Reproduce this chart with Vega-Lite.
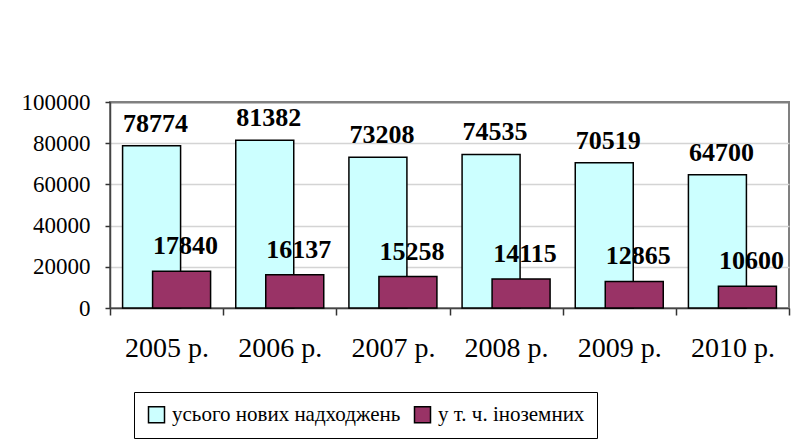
{
  "$schema": "https://vega.github.io/schema/vega-lite/v6.json",
  "autosize": "none",
  "width": 679,
  "height": 206,
  "padding": {"left": 110, "top": 102, "right": 12, "bottom": 137},
  "background": "white",
  "config": {
    "view": {"stroke": "#808080", "strokeWidth": 2},
    "font": "'Liberation Serif', 'Times New Roman', serif"
  },
  "data": {
    "values": [
      {"year": "2005 р.", "series": "усього нових надходжень", "value": 78774},
      {"year": "2006 р.", "series": "усього нових надходжень", "value": 81382},
      {"year": "2007 р.", "series": "усього нових надходжень", "value": 73208},
      {"year": "2008 р.", "series": "усього нових надходжень", "value": 74535},
      {"year": "2009 р.", "series": "усього нових надходжень", "value": 70519},
      {"year": "2010 р.", "series": "усього нових надходжень", "value": 64700},
      {"year": "2005 р.", "series": "у т. ч. іноземних", "value": 17840},
      {"year": "2006 р.", "series": "у т. ч. іноземних", "value": 16137},
      {"year": "2007 р.", "series": "у т. ч. іноземних", "value": 15258},
      {"year": "2008 р.", "series": "у т. ч. іноземних", "value": 14115},
      {"year": "2009 р.", "series": "у т. ч. іноземних", "value": 12865},
      {"year": "2010 р.", "series": "у т. ч. іноземних", "value": 10600}
    ]
  },
  "encoding": {
    "x": {
      "field": "year",
      "type": "nominal",
      "sort": null,
      "scale": {"paddingInner": 0, "paddingOuter": 0},
      "axis": {
        "title": null,
        "labelAngle": 0,
        "labelFont": "'Liberation Serif', 'Times New Roman', serif",
        "labelFontSize": 28,
        "labelColor": "black",
        "labelPadding": 19,
        "tickBand": "extent",
        "tickSize": 7,
        "tickColor": "#333",
        "tickWidth": 1.5,
        "domainColor": "#444",
        "domainWidth": 1.5,
        "grid": false
      }
    },
    "y": {
      "field": "value",
      "type": "quantitative",
      "scale": {"domain": [0, 100000], "nice": false},
      "axis": {
        "title": null,
        "values": [0, 20000, 40000, 60000, 80000, 100000],
        "format": "d",
        "labelFont": "'Liberation Serif', 'Times New Roman', serif",
        "labelFontSize": 23,
        "labelColor": "black",
        "labelPadding": 15,
        "tickSize": 5,
        "tickColor": "#333",
        "tickWidth": 1.5,
        "domainColor": "#444",
        "domainWidth": 1.5,
        "grid": true,
        "gridColor": {"condition": {"test": "datum.value >= 100000", "value": "#808080"}, "value": "#d4d4d4"},
        "gridWidth": {"condition": {"test": "datum.value >= 100000", "value": 2}, "value": 1.5}
      }
    }
  },
  "layer": [
    {
      "transform": [{"filter": "datum.series === 'усього нових надходжень'"}],
      "mark": {"type": "bar", "width": 58, "xOffset": -15, "stroke": "black", "strokeWidth": 1.5},
      "encoding": {
        "color": {
          "field": "series",
          "type": "nominal",
          "sort": ["усього нових надходжень", "у т. ч. іноземних"],
          "scale": {"domain": ["усього нових надходжень", "у т. ч. іноземних"], "range": ["#CCFFFF", "#993366"]},
          "legend": {
            "title": null,
            "orient": "none",
            "legendX": 24,
            "legendY": 290,
            "direction": "horizontal",
            "strokeColor": "black",
            "fillColor": "white",
            "padding": 12,
            "symbolType": "square",
            "symbolSize": 256,
            "symbolStrokeColor": "black",
            "symbolStrokeWidth": 1.5,
            "labelFont": "'Liberation Serif', 'Times New Roman', serif",
            "labelFontSize": 21,
            "labelColor": "black",
            "labelLimit": 400,
            "labelOffset": 5,
            "columnPadding": 10
          }
        }
      }
    },
    {
      "transform": [{"filter": "datum.series === 'у т. ч. іноземних'"}],
      "mark": {"type": "bar", "width": 58, "xOffset": 15, "stroke": "black", "strokeWidth": 1.5},
      "encoding": {
        "color": {"field": "series", "type": "nominal"}
      }
    },
    {
      "transform": [{"filter": "datum.series === 'усього нових надходжень'"}],
      "mark": {"type": "text", "xOffset": -11, "dy": -14, "baseline": "alphabetic", "font": "'Liberation Serif', 'Times New Roman', serif", "fontWeight": "bold", "fontSize": 26, "color": "black"},
      "encoding": {"text": {"field": "value", "type": "quantitative", "format": "d"}}
    },
    {
      "transform": [{"filter": "datum.series === 'у т. ч. іноземних'"}],
      "mark": {"type": "text", "xOffset": 19, "dy": -17, "baseline": "alphabetic", "font": "'Liberation Serif', 'Times New Roman', serif", "fontWeight": "bold", "fontSize": 26, "color": "black"},
      "encoding": {"text": {"field": "value", "type": "quantitative", "format": "d"}}
    }
  ]
}
